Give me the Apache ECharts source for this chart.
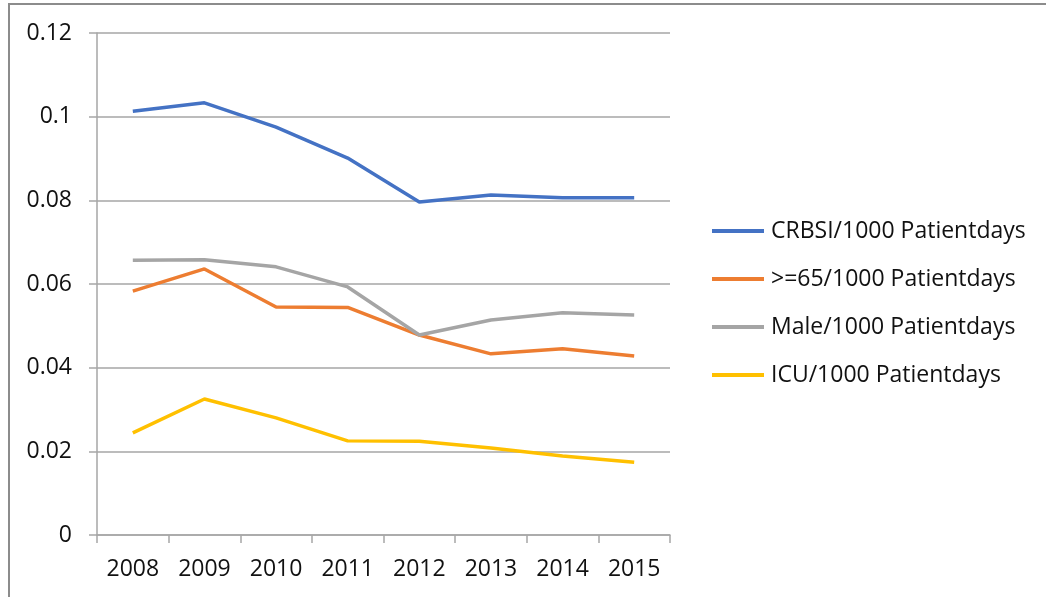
<!DOCTYPE html>
<html>
<head>
<meta charset="utf-8">
<script src="https://cdn.jsdelivr.net/npm/echarts@6/dist/echarts.min.js"></script>
<style>
  html, body { margin: 0; padding: 0; background: #fff; }
  #frame { position: absolute; left: 8px; top: 3px; right: -10px; bottom: -10px; border-left: 2px solid #8c8c8c; border-top: 2px solid #8c8c8c; }
  #chart { position: absolute; left: 0; top: 0; width: 1046px; height: 597px; }
</style>
</head>
<body>
<div id="frame"></div>
<div id="chart"></div>
<script>
const years = ["2008", "2009", "2010", "2011", "2012", "2013", "2014", "2015"]
const crbsi = [0.1013, 0.1033, 0.0975, 0.0901, 0.0796, 0.0813, 0.0806, 0.0806]
const over65 = [0.0583, 0.0636, 0.0545, 0.0544, 0.0478, 0.0433, 0.0445, 0.0428]
const male = [0.0657, 0.0658, 0.0641, 0.0593, 0.0478, 0.0514, 0.0531, 0.0526]
const icu = [0.0244, 0.0325, 0.0280, 0.0225, 0.0224, 0.0208, 0.0189, 0.0174]
const seriesNames = ["CRBSI/1000 Patientdays", ">=65/1000 Patientdays", "Male/1000 Patientdays", "ICU/1000 Patientdays"]
const colors = ["#4472C4", "#ED7D31", "#A5A5A5", "#FFC000"]

const chart = echarts.init(document.getElementById("chart"))
const font = "'Open Sans', 'Noto Sans', sans-serif"

const makeLine = (name, data, color) => ({
  name,
  type: "line",
  data,
  symbol: "none",
  lineStyle: { width: 3.5, color },
  itemStyle: { color },
  z: 3
})

chart.setOption({
  animation: false,
  textStyle: { fontFamily: font },
  grid: { left: 97, right: 376, top: 33, bottom: 62 },
  legend: {
    orient: "vertical",
    left: 707,
    top: 214,
    itemGap: 24,
    itemWidth: 52,
    itemHeight: 4,
    icon: "rect",
    textStyle: { fontSize: 23, lineHeight: 24, color: "#111", fontFamily: font, padding: [0, 0, 0, 2] },
    data: seriesNames
  },
  xAxis: {
    type: "category",
    data: years,
    boundaryGap: true,
    axisLine: { lineStyle: { color: "#a6a6a6", width: 1.5 } },
    axisTick: { show: true, length: 8, lineStyle: { color: "#a6a6a6", width: 1.5 } },
    axisLabel: { fontSize: 23, color: "#111", margin: 23 },
    splitLine: { show: false }
  },
  yAxis: {
    type: "value",
    min: 0,
    max: 0.12,
    interval: 0.02,
    axisLine: { show: true, lineStyle: { color: "#a6a6a6", width: 1.5 } },
    axisTick: { show: true, length: 8, inside: false, lineStyle: { color: "#a6a6a6", width: 1.5 } },
    axisLabel: { fontSize: 23, color: "#111", margin: 25, formatter: v => String(+v.toFixed(2)) },
    splitLine: { show: true, lineStyle: { color: "#a6a6a6", width: 1.5 } }
  },
  series: [
    makeLine(seriesNames[0], crbsi, colors[0]),
    makeLine(seriesNames[1], over65, colors[1]),
    makeLine(seriesNames[2], male, colors[2]),
    makeLine(seriesNames[3], icu, colors[3])
  ]
})
</script>
</body>
</html>
